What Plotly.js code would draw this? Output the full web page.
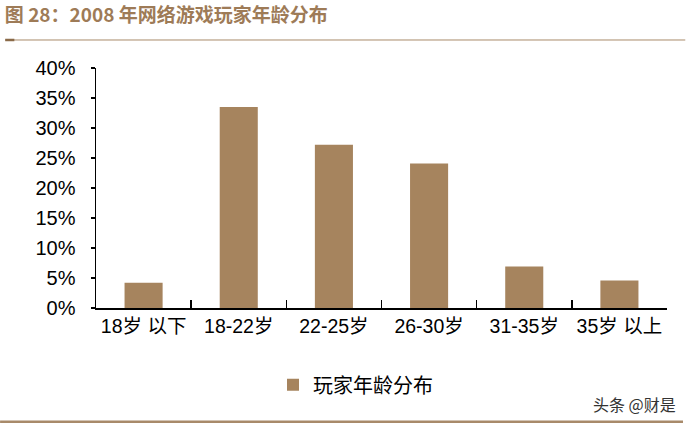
<!DOCTYPE html>
<html>
<head>
<meta charset="utf-8">
<script src="https://cdn.plot.ly/plotly-3.0.1.min.js"></script>
<style>
  html, body { margin: 0; padding: 0; background: #fff; }
  #chart { width: 689px; height: 426px; }
</style>
</head>
<body>
<div id="chart"></div>
<script>
const ageGroups = ["18岁 以下", "18-22岁", "22-25岁", "26-30岁", "31-35岁", "35岁 以上"];
const playerShare = [0.042, 0.335, 0.272, 0.241, 0.069, 0.046];
const yTicks = [0, 0.05, 0.1, 0.15, 0.2, 0.25, 0.3, 0.35, 0.4];
const yTickLabels = ["0%", "5%", "10%", "15%", "20%", "25%", "30%", "35%", "40%"];

const brown = "#a6845e";
const lineBrown = "#a88a6a";
const baseFont = "Liberation Sans, Arial, Noto Sans CJK SC, sans-serif";

const trace = {
  type: "bar",
  x: ageGroups,
  y: playerShare,
  name: "玩家年龄分布",
  marker: { color: brown },
  hoverinfo: "x+y",
};

const layout = {
  width: 689,
  height: 426,
  margin: { l: 96, r: 22, t: 68, b: 118 },
  paper_bgcolor: "#fff",
  plot_bgcolor: "#fff",
  font: { family: baseFont, size: 20, color: "#000" },
  bargap: 0.6,
  showlegend: true,
  title: {
    text: "图 28：2008 年网络游戏玩家年龄分布",
    font: { family: "Noto Sans CJK SC, sans-serif", size: 19, color: "#9e7b57", weight: "bold" },
    x: 0.007,
    xanchor: "left",
    y: 0.965,
    yanchor: "middle",
  },
  xaxis: {
    type: "category",
    showline: true,
    linecolor: "#000",
    linewidth: 1.5,
    ticks: "inside",
    tickson: "boundaries",
    ticklen: 8,
    tickcolor: "#000",
    tickwidth: 1.5,
    tickangle: 0,
    showgrid: false,
    zeroline: false,
    tickfont: { size: 19.5 },
    fixedrange: true,
  },
  yaxis: {
    range: [0, 0.4],
    tickvals: yTicks,
    ticktext: yTickLabels,
    showline: true,
    linecolor: "#000",
    linewidth: 1.5,
    ticks: "outside",
    ticklen: 4,
    tickcolor: "#000",
    tickwidth: 1.5,
    ticklabelstandoff: 11,
    showgrid: false,
    zeroline: false,
    tickfont: { size: 20 },
    fixedrange: true,
  },
  legend: {
    orientation: "h",
    x: 0.31,
    xanchor: "left",
    y: -0.32,
    yanchor: "middle",
    font: { family: "Noto Sans CJK SC, sans-serif", size: 20, color: "#000" },
    itemwidth: 30,
  },
  annotations: [
    {
      text: "头条 @财是",
      xref: "paper",
      yref: "paper",
      x: 1.02,
      y: -0.4,
      xanchor: "right",
      yanchor: "middle",
      showarrow: false,
      font: { family: "Noto Sans CJK SC, sans-serif", size: 16, color: "#333" },
    },
  ],
  shapes: [
    {
      type: "line", xref: "paper", yref: "paper",
      x0: -0.159, x1: 1.032, y0: 1.1167, y1: 1.1167,
      line: { color: lineBrown, width: 1 },
    },
    {
      type: "line", xref: "paper", yref: "paper",
      x0: -0.159, x1: -0.143, y0: 1.1167, y1: 1.1167,
      line: { color: "#8a6a48", width: 2.5 },
    },
    {
      type: "line", xref: "paper", yref: "paper",
      x0: -0.168, x1: 1.028, y0: -0.474, y1: -0.474,
      line: { color: lineBrown, width: 2.5 },
    },
  ],
};

Plotly.newPlot("chart", [trace], layout, { displayModeBar: false, staticPlot: true });
</script>
</body>
</html>
